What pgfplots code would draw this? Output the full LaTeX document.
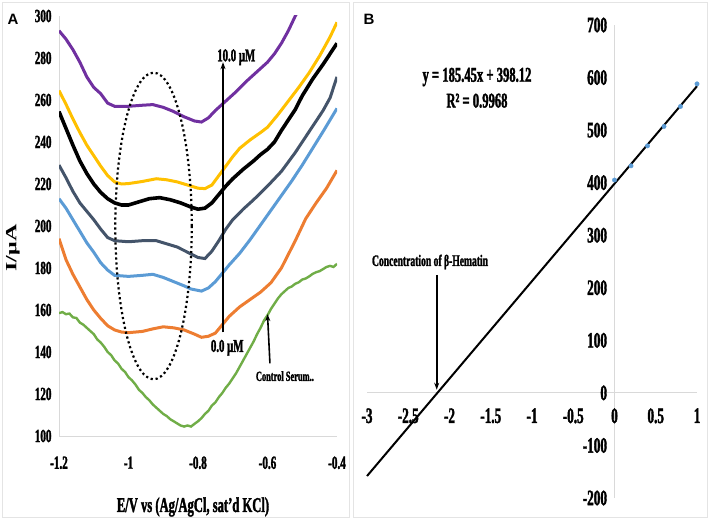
\documentclass[border=0pt]{standalone}
\usepackage{pgfplots}
\pgfplotsset{compat=1.18}
\usepackage{graphicx}
\usepackage{fontspec}
\setmainfont{Liberation Serif}[FakeStretch=0.6, BoldFont={Liberation Serif Bold}, BoldFeatures={FakeStretch=0.6, FakeBold=1.6}]
\newfontfamily\serifn{Liberation Serif}[BoldFont={Liberation Serif Bold}]
\newfontfamily\sansb{Liberation Sans}[BoldFont={Liberation Sans Bold}]
\usetikzlibrary{calc,arrows.meta}
\definecolor{cpurple}{HTML}{7030A0}
\definecolor{cgold}{HTML}{FFC000}
\definecolor{cslate}{HTML}{44546A}
\definecolor{cblue}{HTML}{5B9BD5}
\definecolor{corange}{HTML}{ED7D31}
\definecolor{cgreen}{HTML}{70AD47}
\definecolor{cgrid}{HTML}{D9D9D9}
\newcommand\fs[1]{\fontsize{#1bp}{#1bp}\selectfont\bfseries}
\begin{document}
\begin{tikzpicture}[x=1bp,y=1bp]
\useasboundingbox (0,0) rectangle (709,521);
\draw[cgrid!70,line width=0.8bp] (2,4) rectangle (349,519);
\draw[cgrid!70,line width=0.8bp] (353,4) rectangle (707,519);
% ---------------- Panel A ----------------
\begin{axis}[
  at={(59bp,85bp)}, anchor=south west, scale only axis,
  width=278bp, height=420bp,
  xmin=-1.2, xmax=-0.4, ymin=100, ymax=300,
  axis x line*=bottom, axis y line*=left,
  axis line style={cgrid, line width=0.8bp, -},
  major tick length=0pt,
  xtick={-1.2,-1,-0.8,-0.6,-0.4},
  xticklabels={-1.2,-1,-0.8,-0.6,-0.4},
  ytick={100,120,...,300},
  yticklabels={100,120,140,160,180,200,220,240,260,280,300},
  xticklabel style={font=\fs{18.5}, yshift=-17bp},
  yticklabel style={font=\fs{18.5}, xshift=-4bp},
]
\addplot[cgreen, line width=2.4bp] coordinates {
(-1.2,158.5)(-1.19,159)(-1.18,158)(-1.17,158.3)(-1.16,156.5)(-1.15,156.2)(-1.14,154)
(-1.13,153)(-1.12,151.5)(-1.11,150)(-1.10,148.5)(-1.09,146)(-1.08,144.5)(-1.07,142.5)(-1.06,140)
(-1.05,138.5)(-1.04,136)(-1.03,134.5)(-1.02,132)(-1.01,130.5)(-1.0,128)(-0.99,126.5)(-0.98,124.5)
(-0.97,122)(-0.96,120.5)(-0.95,118.5)(-0.94,117)(-0.93,115)(-0.92,113.5)(-0.91,112)(-0.90,110.5)
(-0.89,109.5)(-0.88,108)(-0.87,107)(-0.86,106)(-0.85,105)(-0.84,104.5)(-0.83,105)(-0.82,104.5)
(-0.81,105.8)(-0.80,107)(-0.79,108.5)(-0.78,110.5)(-0.77,112)(-0.76,114.5)(-0.75,116)(-0.74,118.5)
(-0.73,120.5)(-0.72,123)(-0.71,125)(-0.70,127.5)(-0.69,130)(-0.68,133)(-0.67,136)(-0.66,139)
(-0.65,142)(-0.64,145)(-0.63,148.5)(-0.62,151.5)(-0.61,155)(-0.60,157.5)(-0.59,160.5)(-0.58,163)
(-0.57,165.5)(-0.56,167.5)(-0.55,169)(-0.54,170.5)(-0.53,171.2)(-0.52,172.5)(-0.51,173.2)(-0.50,174.5)
(-0.49,175)(-0.48,176)(-0.47,177.2)(-0.46,178)(-0.45,178.5)(-0.44,179.5)(-0.43,180.5)(-0.42,181)
(-0.41,180.5)(-0.40,182)};
\addplot[corange, line width=3bp] coordinates {
(-1.2,194)(-1.18,184)(-1.16,177)(-1.14,171)(-1.12,165)(-1.10,160)(-1.08,156)(-1.06,152.5)
(-1.04,150.5)(-1.02,149.5)(-1.0,149.2)(-0.96,149.8)(-0.93,151)(-0.90,152)(-0.87,151.5)(-0.84,150.5)
(-0.81,148.5)(-0.79,147)(-0.77,147.5)(-0.75,149)(-0.73,153)(-0.71,157)(-0.68,161.5)(-0.65,165)
(-0.62,168.5)(-0.59,173)(-0.56,180)(-0.54,186.5)(-0.52,193)(-0.49,203.5)(-0.46,211)(-0.43,218)(-0.40,226.5)};
\addplot[cblue, line width=3bp] coordinates {
(-1.2,213)(-1.18,208.5)(-1.16,203)(-1.14,197.5)(-1.12,192)(-1.10,187.5)(-1.08,182.5)(-1.06,179)
(-1.04,176.5)(-1.0,176)(-0.96,176.5)(-0.93,177)(-0.90,175.5)(-0.87,173.5)(-0.84,171.5)(-0.82,170)
(-0.79,169)(-0.77,170.5)(-0.75,173.5)(-0.73,177.5)(-0.71,181.5)(-0.68,187)(-0.65,193.5)(-0.62,200.5)
(-0.59,207.5)(-0.56,214.5)(-0.53,221.5)(-0.50,229)(-0.47,237)(-0.44,245)(-0.42,250.5)(-0.40,256)};
\addplot[cslate, line width=3bp] coordinates {
(-1.2,229)(-1.18,223)(-1.16,216.5)(-1.14,211)(-1.12,207)(-1.10,203)(-1.08,198.5)(-1.06,194.5)
(-1.04,193)(-1.0,192.5)(-0.96,193)(-0.92,193)(-0.89,191.5)(-0.86,190)(-0.83,187.5)(-0.80,185)
(-0.78,184.5)(-0.76,188)(-0.74,193)(-0.72,198.5)(-0.70,203)(-0.67,208)(-0.64,212.5)(-0.60,219)
(-0.56,226)(-0.52,235)(-0.48,245)(-0.44,255)(-0.42,261)(-0.40,271)};
\addplot[black, line width=3.6bp] coordinates {
(-1.2,254.5)(-1.18,246.5)(-1.16,238.5)(-1.14,231)(-1.12,225)(-1.10,220)(-1.08,216)(-1.06,213)
(-1.04,211)(-1.02,210)(-1.0,210)(-0.97,211.5)(-0.94,213)(-0.91,213.5)(-0.88,212.5)(-0.85,211)
(-0.82,209)(-0.80,208)(-0.78,208.5)(-0.76,211)(-0.74,215)(-0.72,219)(-0.70,222.5)(-0.67,227)
(-0.64,231)(-0.62,234)(-0.60,236.5)(-0.58,240)(-0.56,245.5)(-0.54,250.5)(-0.52,255.5)(-0.50,262)
(-0.47,270)(-0.44,277)(-0.42,282)(-0.40,287)};
\addplot[cgold, line width=3bp] coordinates {
(-1.2,264.5)(-1.18,258)(-1.16,251)(-1.14,244.5)(-1.12,238.5)(-1.10,233.5)(-1.08,228.5)(-1.06,224)
(-1.04,221)(-1.02,220)(-1.0,220.2)(-0.96,221.2)(-0.92,222.5)(-0.89,222)(-0.86,221)(-0.83,219.5)
(-0.80,218)(-0.78,217.8)(-0.76,219.5)(-0.74,224)(-0.72,228.5)(-0.70,233)(-0.68,237)(-0.65,241)
(-0.62,244.5)(-0.60,247)(-0.57,253)(-0.54,259.5)(-0.51,266)(-0.48,273)(-0.45,281)(-0.42,290)(-0.40,297)};
\addplot[cpurple, line width=3bp] coordinates {
(-1.2,293)(-1.18,289)(-1.16,284)(-1.14,278)(-1.12,271)(-1.10,266)(-1.08,263)(-1.06,258.5)
(-1.04,257)(-1.0,257)(-0.96,257.5)(-0.93,257.8)(-0.90,256.5)(-0.87,254.5)(-0.84,252)(-0.81,250)
(-0.79,249.5)(-0.77,251.5)(-0.75,255)(-0.72,259.5)(-0.69,264)(-0.66,269)(-0.63,273.5)(-0.60,278)
(-0.58,282)(-0.56,287)(-0.54,293)(-0.52,300)(-0.51,303)};
\coordinate (ec) at (axis cs:-0.928,200);
\coordinate (er) at (axis cs:-0.818,273);
\draw[black, line width=1.6bp, -{Stealth[length=7bp,width=5bp]}] (axis cs:-0.728,149.4) -- (axis cs:-0.728,278);
\node[font=\fs{18}, anchor=south, inner sep=0pt] at (axis cs:-0.69,276.5) {10.0 μM};
\node[font=\fs{18}, inner sep=0pt] at (axis cs:-0.716,142) {0.0 μM};
\draw[black, line width=1.6bp, -{Stealth[length=7bp,width=5bp]}] (axis cs:-0.593,134.6) -- (axis cs:-0.600,158);
\node[font=\fs{14}, inner sep=0pt] at (axis cs:-0.55,128.5) {Control Serum..};
\end{axis}
\draw[black, line width=2.2bp, dash pattern=on 2.2bp off 2.8bp] let \p1=(ec), \p2=(er) in (ec) ellipse [x radius={\x2-\x1}, y radius={\y2-\y1}];
\node[font=\sansb\bfseries\fontsize{15bp}{15bp}\selectfont, inner sep=0pt] at (13,502) {A};
\node[font=\fs{21}, inner sep=0pt] at (193,14) {E/V vs (Ag/AgCl, sat'd KCl)};
\node[rotate=90, inner sep=0pt] at (13,273) {\scalebox{1}[0.65]{\serifn\bfseries\fontsize{24bp}{24bp}\selectfont I/μA}};
% ---------------- Panel B ----------------
\begin{axis}[
  at={(367bp,23bp)}, anchor=south west, scale only axis,
  width=330bp, height=473bp,
  xmin=-3, xmax=1, ymin=-200, ymax=700,
  axis lines=middle,
  axis line style={cgrid, line width=0.8bp, -},
  major tick length=0pt,
  hide obscured x ticks=false, hide obscured y ticks=false,
  xtick={-3,-2.5,-2,-1.5,-1,-0.5,0,0.5,1},
  xticklabels={-3,-2.5,-2,-1.5,-1,-0.5,0,0.5,1},
  ytick={-200,-100,...,700},
  yticklabels={-200,-100,0,100,200,300,400,500,600,700},
  xticklabel style={font=\fs{22}, yshift=-12bp, anchor=north},
  yticklabel style={font=\fs{22}, xshift=-4bp, anchor=east},
  clip=false,
]
\addplot[black, line width=2bp] coordinates {(-3,-158.23)(1,583.57)};
\addplot[only marks, mark=*, mark size=2.2bp, color=cblue] coordinates {
(0,405)(0.2,432)(0.4,470)(0.6,507)(0.8,545)(1.0,588)};
\node[font=\fs{21}, inner sep=0pt] at (axis cs:-1.667,601) {y = 185.45x + 398.12};
\node[font=\fs{21}, inner sep=0pt] at (axis cs:-1.667,556) {R² = 0.9968};
\node[font=\fs{16}, inner sep=0pt] at (axis cs:-2.236,249) {Concentration of β-Hematin};
\draw[black, line width=1.6bp, -{Stealth[length=7bp,width=5bp]}] (axis cs:-2.155,224.5) -- (axis cs:-2.155,6);
\end{axis}
\node[font=\sansb\bfseries\fontsize{15bp}{15bp}\selectfont, inner sep=0pt] at (369,502) {B};
\end{tikzpicture}
\end{document}
